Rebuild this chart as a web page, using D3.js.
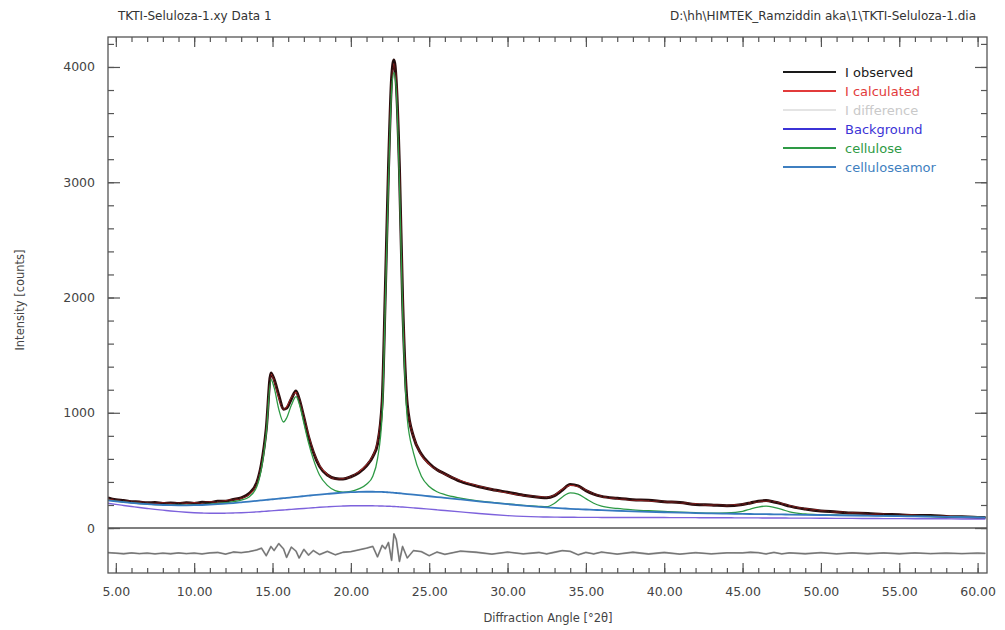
<!DOCTYPE html>
<html>
<head>
<meta charset="utf-8">
<script src="https://cdn.jsdelivr.net/npm/d3@7"></script>
<style>
  body { margin: 0; background: #fff; }
  text { font-family: "DejaVu Sans", Verdana, sans-serif; }
</style>
</head>
<body>
<script>
// 2theta grid (deg)
let angles = [
  4.5, 5, 5.5, 6, 6.5, 7, 7.5, 8, 8.5, 9,
  9.5, 10, 10.5, 11, 11.5, 12, 12.5, 13, 13.5, 14,
  14.3, 14.6, 14.9, 15.1, 15.4, 15.7, 15.9, 16.2, 16.5, 16.7,
  17, 17.3, 17.6, 18, 18.5, 19, 19.5, 20, 20.5, 21,
  21.4, 21.7, 22, 22.2, 22.4, 22.6, 22.75, 22.9, 23.1, 23.3,
  23.6, 24, 24.5, 25, 25.5, 26, 27, 28, 29, 30,
  31, 32, 32.5, 33, 33.5, 34, 34.5, 35, 35.5, 36,
  37, 38, 39, 40, 41, 42, 43, 44, 45, 45.5,
  46, 46.5, 47, 47.5, 48, 49, 50, 51, 52, 53,
  54, 55, 56, 57, 58, 59, 60, 60.5
];

let observed = [
  262, 246, 238, 229, 226, 219, 221, 213, 218, 212,
  219, 214, 223, 222, 232, 233, 248, 262, 298, 395,
  560, 860, 1345, 1290, 1150, 1030, 1040, 1120, 1190, 1120,
  960, 790, 660, 535, 460, 430, 425, 445, 480, 540,
  620, 730, 1100, 2060, 3110, 3900, 4060, 3860, 3120, 1990,
  1070, 790, 640, 560, 505, 470, 405, 365, 335, 310,
  285, 268, 262, 282, 330, 378, 365, 325, 295, 275,
  258, 246, 242, 228, 222, 205, 200, 193, 205, 218,
  232, 238, 226, 210, 190, 165, 148, 140, 130, 127,
  118, 116, 108, 109, 101, 97, 92, 92
];

let calculated = [
  255, 245, 236, 230, 225, 221, 218, 216, 215, 215,
  216, 218, 221, 225, 230, 237, 246, 260, 292, 390,
  552, 850, 1335, 1285, 1135, 1030, 1048, 1128, 1180, 1118,
  962, 800, 662, 540, 462, 428, 428, 445, 485, 545,
  625, 740, 1090, 2040, 3090, 3880, 4030, 3870, 3100, 2000,
  1060, 790, 635, 555, 505, 468, 410, 368, 335, 306,
  283, 270, 265, 285, 335, 372, 362, 328, 295, 275,
  256, 245, 238, 230, 220, 208, 198, 195, 205, 218,
  230, 236, 228, 212, 192, 166, 150, 140, 131, 125,
  119, 114, 110, 106, 102, 98, 94, 92
];

// observed - calculated, drawn below zero
let difference = [
  6, 2, -3, 4, -2, 3, -4, 2, -3, 4,
  -2, 3, -5, 4, 8, -6, 12, 6, 15, 30,
  45, -20, 60, 25, 85, 40, -35, 55, 20, -40,
  35, -15, 25, -10, 18, -12, 10, 15, 30, 45,
  60, -30, 70, 40, 95, -60, 170, 120, -70, 60,
  -40, 25, 15, -20, 12, -8, 20, 10, -6, 12,
  -4, 8, -5, 10, 25, 18, -12, 8, -5, 12,
  -6, 10, -5, 8, -6, 6, -4, 5, 4, 10,
  6, -5, 8, -4, 5, -3, 6, -4, 5, -3,
  4, -3, 4, -2, 3, -2, 3, 0
];
let diffOffset = -220;

let background = [
  215, 205, 196, 187, 178, 170, 162, 155, 148, 142,
  137, 133, 130, 128, 128, 129, 131, 133, 136, 140,
  143, 146, 149, 151, 154, 157, 159, 162, 165, 167,
  170, 173, 176, 180, 184, 188, 191, 193, 194, 194,
  193, 192, 191, 190, 189, 188, 187, 186, 184, 182,
  179, 175, 170, 164, 158, 152, 140, 128, 117, 108,
  101, 97, 96, 95, 94, 94, 93, 93, 93, 92,
  92, 92, 91, 91, 90, 90, 89, 89, 88, 88,
  88, 87, 87, 87, 86, 86, 85, 84, 84, 83,
  82, 82, 81, 80, 80, 79, 78, 78
];

let cellulose = [
  242, 233, 226, 219, 213, 208, 204, 201, 199, 198,
  199, 201, 204, 208, 213, 220, 229, 243, 270, 360,
  520, 820, 1290, 1220, 1030, 920, 955, 1065, 1140, 1080,
  910, 740, 600, 460, 370, 325, 312, 318, 340, 380,
  450, 600, 990, 1950, 3000, 3800, 3950, 3790, 3000, 1900,
  950, 650, 450, 360, 315, 290, 260, 238, 222, 209,
  197, 188, 185, 215, 270, 305, 295, 255, 215, 190,
  170, 158, 150, 144, 138, 133, 130, 132, 145, 165,
  182, 190, 180, 162, 140, 122, 116, 113, 110, 108,
  106, 104, 102, 100, 98, 96, 94, 92
];

let celluloseamor = [
  240, 232, 225, 218, 212, 207, 203, 200, 198, 197,
  197, 198, 200, 203, 207, 212, 217, 223, 229, 236,
  240, 244, 248, 251, 255, 259, 262, 266, 270, 273,
  277, 281, 285, 290, 296, 302, 307, 311, 314, 315,
  315, 314, 313, 312, 310, 308, 306, 304, 302, 299,
  295, 290, 283, 276, 269, 262, 248, 234, 220, 207,
  195, 184, 179, 175, 171, 167, 164, 161, 158, 155,
  150, 145, 141, 137, 133, 130, 127, 125, 123, 122,
  121, 120, 119, 118, 117, 115, 113, 111, 109, 107,
  105, 103, 101, 99, 97, 95, 93, 92
];

let xMajor = [5, 10, 15, 20, 25, 30, 35, 40, 45, 50, 55, 60];
let xMinor = d3.range(5, 61, 1);
let yMajor = [0, 1000, 2000, 3000, 4000];
let yMinor = d3.range(0, 4201, 200);

let legendNames = ["I observed", "I calculated", "I difference", "Background", "cellulose", "celluloseamor"];
let legendColors = ["#1a1a1a", "#e23b3b", "#c9c9c9", "#3b33d6", "#2e9a45", "#3f7fc0"];

function graficar() {
  let w = 1005;
  let h = 630;
  let left = 108, right = 987, top = 37, bottom = 573;

  let svg = d3.select("body").append("svg").attr("width", w).attr("height", h);

  let x = d3.scaleLinear().domain([4.5, 60.6]).range([left, right]);
  let y = d3.scaleLinear().domain([-390, 4260]).range([bottom, top]);

  // header texts
  svg.append("text").attr("x", 118).attr("y", 20).attr("font-size", 12).attr("fill", "#333")
    .text("TKTI-Seluloza-1.xy Data 1");
  svg.append("text").attr("x", 976).attr("y", 20).attr("font-size", 12).attr("fill", "#333")
    .attr("text-anchor", "end")
    .text("D:\\hh\\HIMTEK_Ramziddin aka\\1\\TKTI-Seluloza-1.dia");

  // curves
  let plot = svg.append("g");
  plot.append("clipPath").attr("id", "clip").append("rect")
    .attr("x", left).attr("y", top).attr("width", right - left).attr("height", bottom - top);
  let area = plot.append("g").attr("clip-path", "url(#clip)");

  // zero line
  area.append("line")
    .attr("x1", left).attr("x2", right)
    .attr("y1", y(0)).attr("y2", y(0))
    .attr("stroke", "#555").attr("stroke-width", 1.5);

  function serie(values, color, width, shift, curve) {
    let line = d3.line()
      .x(function (d, i) { return x(angles[i]); })
      .y(function (d) { return y(d + (shift || 0)); })
      .curve(curve || d3.curveMonotoneX);
    area.append("path")
      .datum(values)
      .attr("d", line)
      .attr("fill", "none")
      .attr("stroke", color)
      .attr("stroke-width", width)
      .attr("stroke-linejoin", "round");
  }

  serie(difference, "#9a9a9a", 1.8, diffOffset, d3.curveLinear);
  serie(difference, "#666", 0.8, diffOffset, d3.curveLinear);
  serie(observed, "#2a0c0c", 3);
  serie(calculated, "#d42a2a", 1.2);
  serie(observed, "#1a1010", 1);
  serie(background, "#7d62dc", 1.4);
  serie(cellulose, "#2e9a45", 1.3);
  serie(celluloseamor, "#3579bf", 1.8);

  // frame
  svg.append("rect")
    .attr("x", left).attr("y", top)
    .attr("width", right - left).attr("height", bottom - top)
    .attr("fill", "none").attr("stroke", "#555").attr("stroke-width", 1.3);

  // axes: ticks inside the frame
  function ejes(axis, tx, ty, size, labels, pad) {
    let g = svg.append("g")
      .attr("transform", "translate(" + tx + "," + ty + ")")
      .call(axis.tickSize(size).tickPadding(pad || 3));
    g.select(".domain").remove();
    g.selectAll("line").attr("stroke", "#555").attr("stroke-width", 1.2);
    g.selectAll("text").attr("fill", "#444").attr("font-size", 12.5)
      .attr("font-family", "DejaVu Sans, Verdana, sans-serif");
    if (!labels) g.selectAll("text").remove();
    return g;
  }

  ejes(d3.axisBottom(x).tickValues(xMinor).tickFormat(""), 0, bottom, -5, false);
  ejes(d3.axisBottom(x).tickValues(xMajor).tickFormat(function (d) { return d.toFixed(2); }),
    0, bottom, -10, true, 14);
  ejes(d3.axisTop(x).tickValues(xMinor).tickFormat(""), 0, top, -5, false);
  ejes(d3.axisTop(x).tickValues(xMajor).tickFormat(""), 0, top, -10, false);

  ejes(d3.axisLeft(y).tickValues(yMinor).tickFormat(""), left, 0, -6, false);
  ejes(d3.axisLeft(y).tickValues(yMajor).tickFormat(d3.format("d")), left, 0, -12, true, 13);
  ejes(d3.axisRight(y).tickValues(yMinor).tickFormat(""), right, 0, -6, false);
  ejes(d3.axisRight(y).tickValues(yMajor).tickFormat(""), right, 0, -12, false);

  // axis titles
  svg.append("text")
    .attr("transform", "translate(24," + 300 + ") rotate(-90)")
    .attr("text-anchor", "middle").attr("font-size", 11.5).attr("fill", "#444")
    .text("Intensity [counts]");
  svg.append("text")
    .attr("x", 548).attr("y", 622)
    .attr("text-anchor", "middle").attr("font-size", 11.5).attr("fill", "#444")
    .text("Diffraction Angle [°2θ]");

  // legend
  let leg = svg.append("g");
  leg.selectAll("line")
    .data(legendNames)
    .enter()
    .append("line")
    .attr("x1", 783).attr("x2", 836)
    .attr("y1", function (d, i) { return 72 + i * 19; })
    .attr("y2", function (d, i) { return 72 + i * 19; })
    .attr("stroke", function (d, i) { return legendColors[i]; })
    .attr("stroke-width", function (d, i) { return i === 2 ? 1 : 2; });
  leg.selectAll("text")
    .data(legendNames)
    .enter()
    .append("text")
    .text(function (d) { return d; })
    .attr("x", 845)
    .attr("y", function (d, i) { return 77 + i * 19; })
    .attr("font-size", 13)
    .attr("fill", function (d, i) { return legendColors[i]; });
}

graficar();
</script>
</body>
</html>
